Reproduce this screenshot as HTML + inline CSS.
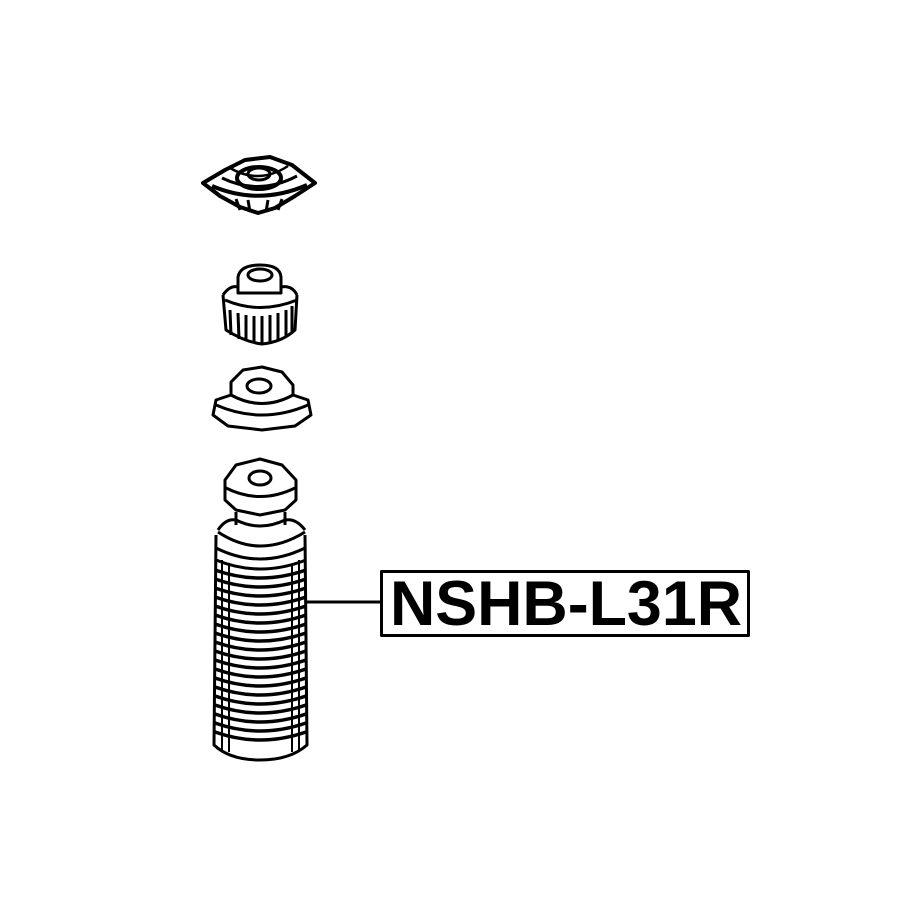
<!DOCTYPE html>
<html><head><meta charset="utf-8"><style>
html,body{margin:0;padding:0;background:#fff;}
svg{display:block;}
</style></head><body>
<svg width="915" height="915" viewBox="0 0 915 915" xmlns="http://www.w3.org/2000/svg">
<g fill="none" stroke="#000" stroke-width="3" stroke-linejoin="round">
<!-- top mount plate -->
<path d="M203,183 L225,170 L245,160 L270,157 L292,165 L315,183 L295,196 L275,208 L258,213 L240,207 L220,196 Z" stroke-width="4"/>
<ellipse cx="259" cy="178" rx="22" ry="11" stroke-width="4"/>
<ellipse cx="259" cy="174" rx="11" ry="6" stroke-width="3"/>
<path d="M212,186 Q259,206 307,185" stroke-width="4"/>
<path d="M222,178 Q259,196 297,176" stroke-width="3"/>
<path d="M230,168 Q259,185 288,166" stroke-width="2.5"/>
<path d="M236,199 L240,210 M282,199 L278,210 M248,200 L250,212 M268,200 L266,212" stroke-width="3"/>
<!-- bump stop with ribs -->
<path d="M238,277 Q240,265 260,265 Q280,265 281,277 L281,293 L238,293 Z"/>
<ellipse cx="260" cy="275" rx="12" ry="6"/>
<path d="M223,295 Q230,285 238,287 M281,287 Q292,285 297,295"/>
<path d="M223,295 L226,330 Q245,342 262,344 Q282,342 295,330 L297,295"/>
<path d="M225,300 Q260,315 297,300"/>
<path d="M230,310 L231,335 M238,313 L239,339 M246,315 L246,341 M254,316 L254,343 M262,316 L262,344 M270,315 L270,343 M278,313 L278,340 M286,310 L286,336 M292,306 L292,332"/>
<!-- washer -->
<path d="M231,382 L243,370 L262,367 L282,372 L293,385 L293,395 L308,400 L311,415 L295,426 L262,430 L228,426 L213,415 L216,400 L231,395 Z"/>
<path d="M231,395 Q262,412 293,395"/>
<path d="M216,405 Q262,425 308,405"/>
<ellipse cx="259" cy="386" rx="12" ry="7"/>
<!-- upper bellows top -->
<path d="M225,480 L236,465 L260,459 L282,465 L296,480 L296,500 L285,510 L260,515 L236,510 L225,500 Z"/>
<ellipse cx="260" cy="478" rx="11" ry="7"/>
<path d="M226,488 Q260,505 295,488"/>
<path d="M236,512 L236,525 M285,512 L285,525"/>
<path d="M236,520 Q260,532 285,520"/>
<!-- bellows body -->
<path d="M218,530 Q226,518 236,520 M285,520 Q296,518 305,530"/>
<path d="M216,535 L214,745 Q230,760 260,760 Q290,760 307,745 L305,535"/>
<path d="M218,532 Q260,560 305,532"/>
<path d="M216,548 Q260,570 305,548"/>
<path d="M216,560 Q260,578 306,560"/>
<g stroke-width="3.5">
<path d="M215,570 Q260,586 306,570"/>
<path d="M215,579 Q260,595 306,579"/>
<path d="M215,588 Q260,604 306,588"/>
<path d="M215,597 Q260,613 306,597"/>
<path d="M215,606 Q260,622 306,606"/>
<path d="M215,615 Q260,631 306,615"/>
<path d="M215,624 Q260,640 306,624"/>
<path d="M215,633 Q260,649 306,633"/>
<path d="M215,642 Q260,658 306,642"/>
<path d="M215,651 Q260,667 306,651"/>
<path d="M215,660 Q260,676 306,660"/>
<path d="M215,669 Q260,685 306,669"/>
<path d="M215,678 Q260,694 306,678"/>
<path d="M215,687 Q260,703 306,687"/>
<path d="M215,696 Q260,712 306,696"/>
<path d="M215,705 Q260,721 306,705"/>
<path d="M215,714 Q260,730 306,714"/>
<path d="M215,723 Q260,739 306,723"/>
<path d="M215,732 Q260,748 306,732"/>
</g>
<path d="M222,560 L222,750 M229,565 L229,752 M292,565 L292,752 M299,560 L299,750" stroke-width="2"/>
<!-- leader -->
<line x1="306" y1="602" x2="382" y2="602" stroke-width="3"/>
<!-- label box -->
<rect x="381.5" y="571.5" width="367" height="64" stroke-width="3"/>
</g>
<text x="390" y="625" font-family="Liberation Sans, Arial, sans-serif" font-weight="bold" font-size="63" textLength="352" lengthAdjust="spacingAndGlyphs" fill="#000">NSHB-L31R</text>
</svg>
</body></html>
